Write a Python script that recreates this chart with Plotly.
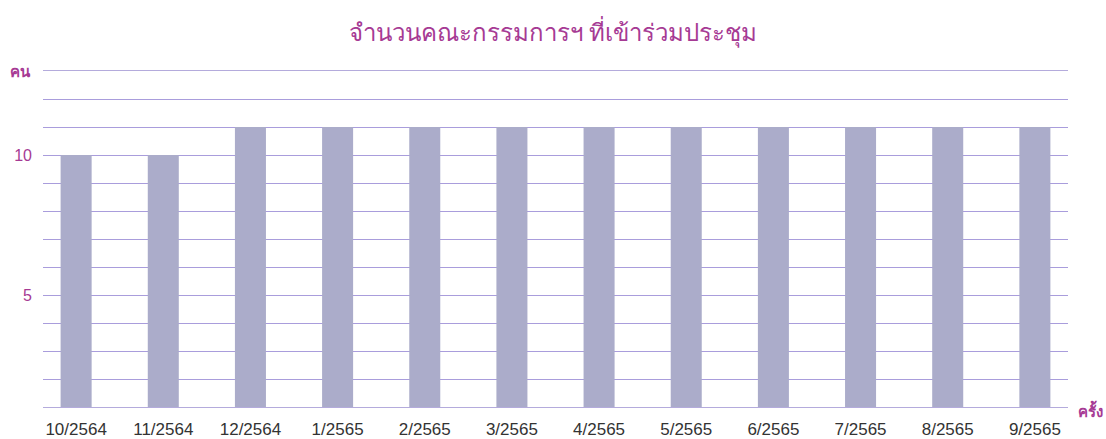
import plotly.graph_objects as go

categories = ["10/2564", "11/2564", "12/2564", "1/2565", "2/2565", "3/2565",
              "4/2565", "5/2565", "6/2565", "7/2565", "8/2565", "9/2565"]
attendees = [10, 10, 11, 11, 11, 11, 11, 11, 11, 11, 11, 11]
y_grid_vals = list(range(1, 14))
y_labelled = [5, 10]
title_text = "จำนวนคณะกรรมการฯ ที่เข้าร่วมประชุม"
y_unit = "คน"
x_unit = "ครั้ง"

MAG = "#a63a94"
GRID = "#b4abdc"
GRID_INNER = "#a99ddc"
fig = go.Figure(go.Bar(x=list(range(len(categories))), y=attendees,
                       marker=dict(color="#abacca", line=dict(width=0)),
                       width=0.356, hoverinfo="skip"))

fig.update_layout(
    width=1106, height=439,
    margin=dict(l=43, r=38, t=71, b=32),
    paper_bgcolor="white", plot_bgcolor="white",
    font=dict(family="Liberation Sans, Arial, sans-serif", size=15, color="#333333"),
    title=dict(text=title_text, x=0.5, xanchor="center", y=0.925, yanchor="middle",
               font=dict(size=24, color=MAG)),
    showlegend=False,
    xaxis=dict(tickmode="array", tickvals=list(range(len(categories))), ticktext=categories,
               range=[-0.38, 11.38], showgrid=False, zeroline=False, automargin=False,
               showline=True, mirror=True, linecolor=GRID, linewidth=1,
               ticks="", tickfont=dict(size=17, color="#333333"), ticklabelstandoff=7),
    yaxis=dict(range=[1, 13], tickmode="array", tickvals=y_grid_vals,
               ticktext=[str(v) if v in y_labelled else "" for v in y_grid_vals],
               automargin=False, showgrid=True, gridcolor=GRID_INNER, gridwidth=1,
               zeroline=False, showline=False, ticks="",
               tickfont=dict(size=16, color=MAG), ticklabelstandoff=10),
)
fig.add_annotation(xref="paper", yref="y", x=0, y=13, text=f"<b>{y_unit}</b>",
                   xanchor="right", yanchor="middle", xshift=-10, showarrow=False,
                   font=dict(size=15, color=MAG))
fig.add_annotation(xref="paper", yref="y", x=1, y=1, text=f"<b>{x_unit}</b>",
                   xanchor="left", yanchor="middle", xshift=8, yshift=-3, showarrow=False,
                   font=dict(size=15, color=MAG))
fig.write_html("out.html", config={"displayModeBar": False},
               post_script="document.body.style.margin='0';")
